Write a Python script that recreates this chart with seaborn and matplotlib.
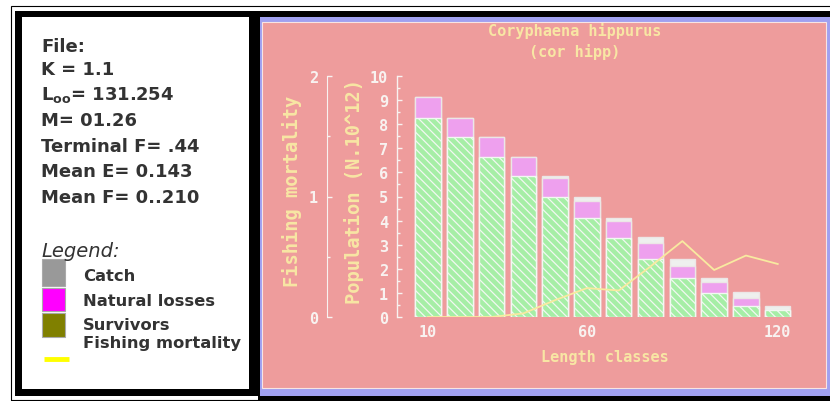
import numpy as np
import pandas as pd
import matplotlib
matplotlib.use("Agg")
import matplotlib.pyplot as plt
from matplotlib.patches import Rectangle
from matplotlib.lines import Line2D
from matplotlib.ticker import MultipleLocator
import seaborn as sns

# ---------------- data ----------------
length_classes = [10, 20, 30, 40, 50, 60, 70, 80, 90, 100, 110, 120]
survivors = [8.26, 7.46, 6.65, 5.84, 4.99, 4.09, 3.29, 2.42, 1.61, 1.00, 0.47, 0.30]
natural_losses = [0.88, 0.80, 0.81, 0.81, 0.77, 0.73, 0.71, 0.64, 0.51, 0.44, 0.31, 0.00]
catch = [0.00, 0.00, 0.00, 0.00, 0.08, 0.17, 0.10, 0.25, 0.30, 0.18, 0.24, 0.17]
fishing_mortality = [0.0, 0.0, 0.0, 0.03, 0.14, 0.24, 0.22, 0.42, 0.63, 0.39, 0.51, 0.44]
x_ticks = [10, 60, 120]

title_text = "Coryphaena hippurus\n(cor hipp)"
info_lines = ["File:", "K = 1.1", "L$_{\\mathregular{oo}}$= 131.254", "M= 01.26",
              "Terminal F= .44", "Mean E= 0.143", "Mean F= 0..210"]
legend_labels = ["Catch", "Natural losses", "Survivors", "Fishing mortality"]

df = pd.DataFrame({"cls": length_classes, "surv": survivors,
                   "nat": natural_losses, "catch": catch, "F": fishing_mortality})
df["top_nat"] = df["surv"] + df["nat"]
df["total"] = df["top_nat"] + df["catch"]

# ---------------- figure ----------------
W, H = 830, 402
plt.rcParams["hatch.linewidth"] = 0.9
fig = plt.figure(figsize=(W / 100, H / 100), dpi=100)
fig.patch.set_facecolor("white")


def rect(x0, y0, x1, y1, **kw):
    r = Rectangle((x0 / W, 1 - y1 / H), (x1 - x0) / W, (y1 - y0) / H,
                  transform=fig.transFigure, **kw)
    fig.add_artist(r)
    return r


# frames
rect(10.5, 6.5, 845, 400.5, fill=False, edgecolor="black", linewidth=0.8, zorder=-10)
rect(15, 12, 830, 397, facecolor="black", edgecolor="none", zorder=-9)
rect(258, 397, 830, 402, facecolor="black", edgecolor="none", zorder=-9)
rect(22, 18, 249, 390, facecolor="white", edgecolor="none", zorder=-8)
rect(260, 18, 830, 397, facecolor="#a0a0f0", edgecolor="none", zorder=-8)
rect(262, 22.5, 826, 389, facecolor="#ee9c9c", edgecolor="#f8e4e4", linewidth=0.8, zorder=-7)

# ---------------- main axes ----------------
axL, axR, axT, axB = 397, 800, 77, 318
ax = fig.add_axes([axL / W, 1 - axB / H, (axR - axL) / W, (axB - axT) / H])
ax.set_facecolor("none")

outline = "#ece6e6"
sns.barplot(data=df, x="cls", y="total", native_scale=True, width=0.8,
            color="#eef0ee", saturation=1, edgecolor=outline, linewidth=1,
            errorbar=None, ax=ax)
sns.barplot(data=df, x="cls", y="top_nat", native_scale=True, width=0.8,
            color="#eea0ee", saturation=1, edgecolor=outline, linewidth=1,
            errorbar=None, ax=ax)
sns.barplot(data=df, x="cls", y="surv", native_scale=True, width=0.8,
            color="#a6eea6", saturation=1, edgecolor="#f2f8f2", linewidth=1,
            hatch="\\\\\\\\", errorbar=None, ax=ax)

ax.set_xlim(0.25, 127)
ax.set_ylim(0, 10)
ax.set_yticks(range(0, 11))
ax.yaxis.set_minor_locator(MultipleLocator(0.5))
ax.set_xticks(x_ticks)
ax.set_xticklabels([str(t) for t in x_ticks])

mono = "DejaVu Sans Mono"
tick_col = "#f8f2f0"
lab_col = "#f8e6a4"

for s in ["top", "right", "bottom"]:
    ax.spines[s].set_visible(False)
ax.spines["left"].set_color(tick_col)
ax.spines["left"].set_linewidth(1)
ax.tick_params(axis="y", which="major", direction="in", length=3.6, width=1,
               color=tick_col, labelcolor=tick_col, labelsize=11, pad=6.5)
ax.tick_params(axis="y", which="minor", direction="in", length=1.8, width=1,
               color=tick_col)
ax.tick_params(axis="x", length=0, labelcolor=tick_col, labelsize=11, pad=5)
for lbl in ax.get_yticklabels() + ax.get_xticklabels():
    lbl.set_fontfamily(mono)
    lbl.set_fontweight("bold")

ax.set_xlabel("Length classes", fontfamily=mono, fontweight="bold",
              fontsize=11, color=lab_col)
ax.xaxis.set_label_coords((605 - axL) / (axR - axL), (axB - 358) / (axB - axT))
ax.xaxis.label.set_va("center")
ax.set_ylabel("Population (N.10^12)", fontfamily=mono, fontweight="bold",
              fontsize=13.5, color=lab_col)
ax.yaxis.label.set_rotation_mode("default")
ax.yaxis.label.set_va("center")
ax.yaxis.label.set_ha("center")
ax.yaxis.set_label_coords((354 - axL) / (axR - axL), (axB - 191.5) / (axB - axT))

ax.set_title(title_text, x=(575 - axL) / (axR - axL), y=(axB - 57) / (axB - axT),
             pad=0, fontfamily=mono, fontweight="bold", fontsize=11,
             color=lab_col, linespacing=1.35)

# ---------------- fishing mortality axis ----------------
ax2 = ax.twinx()
ax2.set_facecolor("none")
sns.lineplot(data=df, x="cls", y="F", color="#f8eaa0", linewidth=1.3, ax=ax2)
ax2.set_ylim(0, 2)
ax2.set_yticks([0, 1, 2])
ax2.yaxis.set_minor_locator(MultipleLocator(0.5))
for s in ["top", "right", "bottom"]:
    ax2.spines[s].set_visible(False)
ax2.spines["left"].set_visible(True)
ax2.spines["left"].set_position(("axes", (327 - axL) / (axR - axL)))
ax2.spines["left"].set_color(tick_col)
ax2.yaxis.set_ticks_position("left")
ax2.yaxis.set_label_position("left")
ax2.tick_params(axis="y", which="major", direction="in", length=3.6, width=1,
                color=tick_col, labelcolor=tick_col, labelsize=11, pad=6.5)
ax2.tick_params(axis="y", which="minor", direction="in", length=1.8, width=1,
                color=tick_col)
for lbl in ax2.get_yticklabels():
    lbl.set_fontfamily(mono)
    lbl.set_fontweight("bold")
ax2.set_xlabel("")
ax2.set_ylabel("Fishing mortality", fontfamily=mono, fontweight="bold",
               fontsize=13.5, color=lab_col)
ax2.yaxis.label.set_rotation_mode("default")
ax2.yaxis.label.set_va("center")
ax2.yaxis.label.set_ha("center")
ax2.yaxis.set_label_coords((292 - axL) / (axR - axL), (axB - 191) / (axB - axT))
ax.set_xlim(0.25, 127)

# ---------------- left info panel ----------------
txt_col = "#333333"
baselines = [52, 75, 100, 126, 152, 177, 203]
for line, yb in zip(info_lines, baselines):
    fig.text(41 / W, 1 - yb / H, line, fontfamily="DejaVu Sans", fontweight="bold",
             fontsize=13, color=txt_col, va="baseline", ha="left")

fig.text(41 / W, 1 - 257 / H, "Legend:", fontfamily="DejaVu Sans", style="italic",
         fontsize=14, color=txt_col, va="baseline", ha="left")

sq_colors = ["#999999", "#ff00ff", "#808000"]
sq_y = [(260, 286.5), (288.5, 312), (313.5, 338)]
for c, (y0, y1) in zip(sq_colors, sq_y):
    rect(41.5, y0, 65, y1, facecolor=c, edgecolor="#aaaaaa", linewidth=0.8, zorder=1)
fig.add_artist(Line2D([44 / W, 69 / W], [1 - 360 / H, 1 - 360 / H], color="#ffff00",
                      linewidth=3.5, transform=fig.transFigure, solid_capstyle="butt"))

leg_base = [281, 306, 330, 348]
for lab, yb in zip(legend_labels, leg_base):
    fig.text(83 / W, 1 - yb / H, lab, fontfamily="DejaVu Sans", fontweight="bold",
             fontsize=11.8, color=txt_col, va="baseline", ha="left")

fig.savefig("out.png", dpi=100, facecolor="white")
